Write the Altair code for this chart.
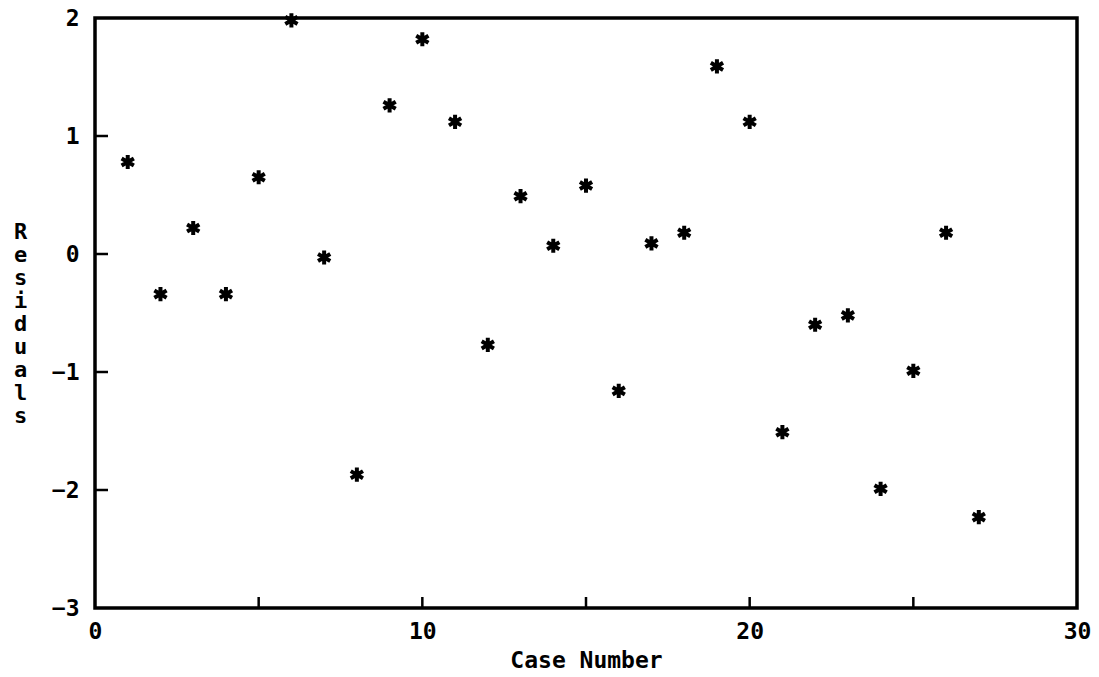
import altair as alt
import pandas as pd

case = list(range(1, 28))
resid = [0.78, -0.34, 0.22, -0.34, 0.65, 1.98, -0.03, -1.87, 1.26, 1.82,
         1.12, -0.77, 0.49, 0.07, 0.58, -1.16, 0.09, 0.18, 1.59, 1.12,
         -1.51, -0.60, -0.52, -1.99, -0.99, 0.18, -2.23]
x_ticks = [5, 10, 15, 20, 25]
y_ticks = [-2, -1, 0, 1]

df = pd.DataFrame({"case": case, "resid": resid})
FONT = "DejaVu Sans Mono"

xs = alt.Scale(domain=[0, 30], nice=False)
ys = alt.Scale(domain=[-3, 2], nice=False)

star = "M0,-1L0,1M-0.866,-0.5L0.866,0.5M-0.866,0.5L0.866,-0.5"

pts = alt.Chart(df).mark_point(shape=star, stroke="black", strokeWidth=4,
                               size=200, opacity=1, filled=False).encode(
    x=alt.X("case:Q", scale=xs, title="Case Number",
            axis=alt.Axis(values=[0, 10, 20, 30], tickSize=0, domain=False, grid=False,
                          labelFont=FONT, labelFontSize=23, labelFontWeight="bold",
                          labelColor="black", labelPadding=12, format="d", labelFlush=False,
                          titleFont=FONT, titleFontSize=23, titleFontWeight="bold",
                          titleColor="black", titlePadding=6)),
    y=alt.Y("resid:Q", scale=ys, title=list("Residuals"),
            axis=alt.Axis(values=[-3, -2, -1, 0, 1, 2], tickSize=0, domain=False, grid=False,
                          labelFont=FONT, labelFontSize=23, labelFontWeight="bold",
                          labelColor="black", labelPadding=16, format="d", labelFlush=False,
                          titleFont=FONT, titleFontSize=22, titleFontWeight="bold",
                          titleColor="black", titleAngle=0, titleLineHeight=23,
                          titleAlign="center", titleBaseline="top",
                          titleX=-75, titleY=203)),
)

xt = alt.Chart(pd.DataFrame({"t": x_ticks})).mark_rule(color="black", strokeWidth=2.5).encode(
    x=alt.X("t:Q", scale=xs), y=alt.value(590), y2=alt.value(579))
yt = alt.Chart(pd.DataFrame({"t": y_ticks})).mark_rule(color="black", strokeWidth=2.5).encode(
    y=alt.Y("t:Q", scale=ys), x=alt.value(0), x2=alt.value(13))

chart = alt.layer(xt, yt, pts).properties(
    width=982, height=590,
    background="white",
    autosize=alt.AutoSizeParams(type="none"),
    padding={"left": 95, "top": 18, "right": 22, "bottom": 69},
).configure_view(stroke="black", strokeWidth=3.5)

chart.save("out.html", embed_options={"renderer": "svg", "actions": False})
